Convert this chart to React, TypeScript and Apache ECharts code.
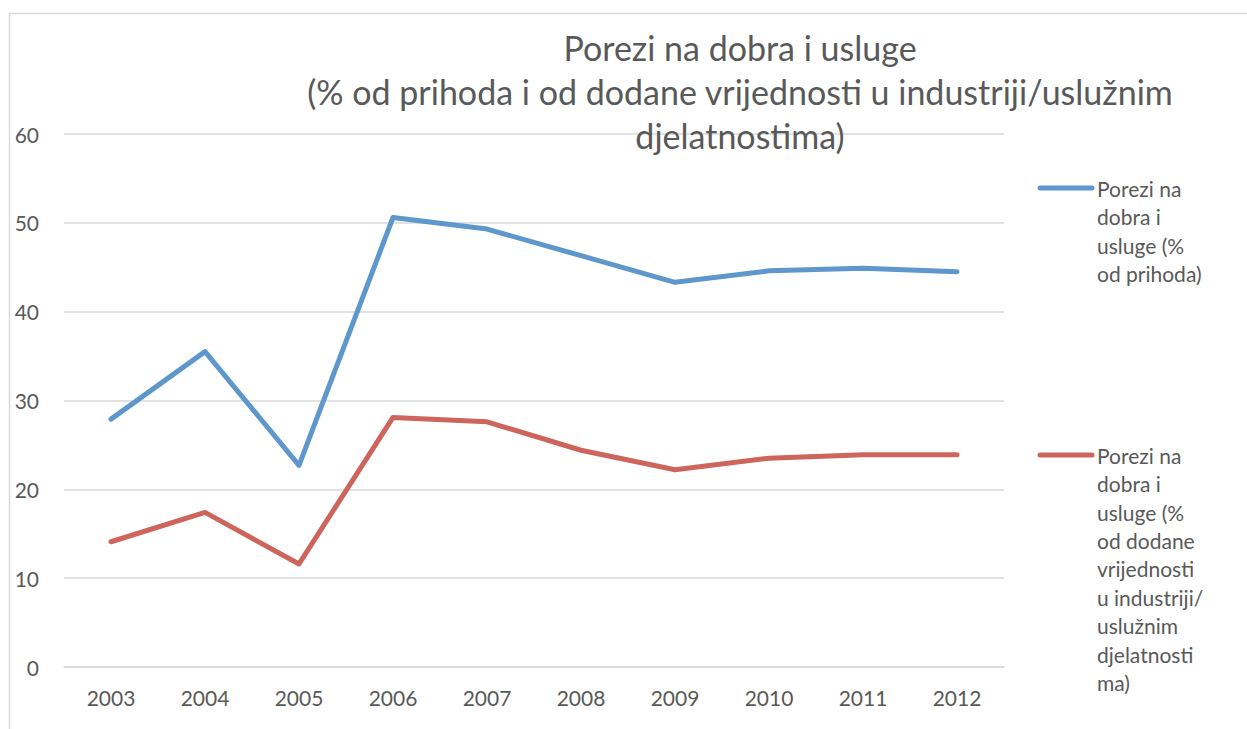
import React, { useEffect, useRef } from "react";
import * as echarts from "echarts";

const years = ["2003", "2004", "2005", "2006", "2007", "2008", "2009", "2010", "2011", "2012"];
const prihodaValues = [27.9, 35.5, 22.7, 50.6, 49.3, 46.3, 43.3, 44.6, 44.9, 44.5];
const dodaneValues = [14.1, 17.4, 11.6, 28.1, 27.6, 24.4, 22.2, 23.5, 23.9, 23.9];
const seriesNames = [
  "Porezi na dobra i usluge (% od prihoda)",
  "Porezi na dobra i usluge (% od dodane vrijednosti u industriji/uslužnim djelatnostima)",
];
const legendLabels = [
  "Porezi na\ndobra i\nusluge (%\nod prihoda)",
  "Porezi na\ndobra i\nusluge (%\nod dodane\nvrijednosti\nu industriji/\nuslužnim\ndjelatnosti\nma)",
];
const titleText = "Porezi na dobra i usluge\n(% od prihoda i od dodane vrijednosti u industriji/uslužnim\ndjelatnostima)";
const yTicks = { min: 0, max: 60, interval: 10 };

const colors = ["#5E97CB", "#CE655D"];
const FONT = "Lato, 'Open Sans', sans-serif";

export default function App() {
  const ref = useRef<HTMLDivElement>(null);
  useEffect(() => {
    if (!ref.current) return;
    const chart = echarts.init(ref.current, null, { renderer: "svg" });
    const legendY = [188, 455];
    const graphic: any[] = [
      {
        type: "rect",
        shape: { x: 9.5, y: 13.5, width: 1400, height: 900 },
        style: { fill: "none", stroke: "#D9D9D9", lineWidth: 1.5 },
        silent: true,
      },
    ];
    legendLabels.forEach((lab, i) => {
      graphic.push({
        type: "line",
        shape: { x1: 1040, y1: legendY[i], x2: 1092, y2: legendY[i] },
        style: { stroke: colors[i], lineWidth: 5, lineCap: "round" },
      });
      graphic.push({
        type: "text",
        x: 1097,
        y: legendY[i] - 14,
        style: {
          text: lab,
          fill: "#595959",
          font: `21px ${FONT}`,
          lineHeight: 28.4,
          verticalAlign: "top",
        },
      });
    });
    chart.setOption({
      animation: false,
      backgroundColor: "#ffffff",
      title: {
        text: titleText,
        left: 735,
        top: 20,
        textAlign: "center",
        textStyle: {
          fontFamily: FONT,
          fontSize: 34,
          fontWeight: "normal",
          color: "#595959",
          lineHeight: 44,
        },
      },
      legend: { show: false, data: seriesNames },
      grid: { left: 64, right: 243, top: 134, bottom: 62, containLabel: false },
      xAxis: {
        type: "category",
        data: years,
        boundaryGap: true,
        axisLine: { show: true, lineStyle: { color: "#D9D9D9", width: 1.5 } },
        axisTick: { show: false },
        axisLabel: { color: "#595959", fontSize: 21, fontFamily: FONT, margin: 20 },
      },
      yAxis: {
        type: "value",
        min: yTicks.min,
        max: yTicks.max,
        interval: yTicks.interval,
        axisLine: { show: false },
        axisTick: { show: false },
        axisLabel: { color: "#595959", fontSize: 21, fontFamily: FONT, margin: 25 },
        splitLine: { lineStyle: { color: "#D9D9D9", width: 1.5 } },
      },
      series: [
        {
          name: seriesNames[0],
          type: "line",
          data: prihodaValues,
          symbol: "none",
          lineStyle: { color: colors[0], width: 5, cap: "round", join: "round" },
          itemStyle: { color: colors[0] },
        },
        {
          name: seriesNames[1],
          type: "line",
          data: dodaneValues,
          symbol: "none",
          lineStyle: { color: colors[1], width: 5, cap: "round", join: "round" },
          itemStyle: { color: colors[1] },
        },
      ],
      graphic,
    });
    return () => chart.dispose();
  }, []);
  return (
    <div
      ref={ref}
      style={{ position: "absolute", left: 0, top: 0, width: 1247, height: 729 }}
    />
  );
}
